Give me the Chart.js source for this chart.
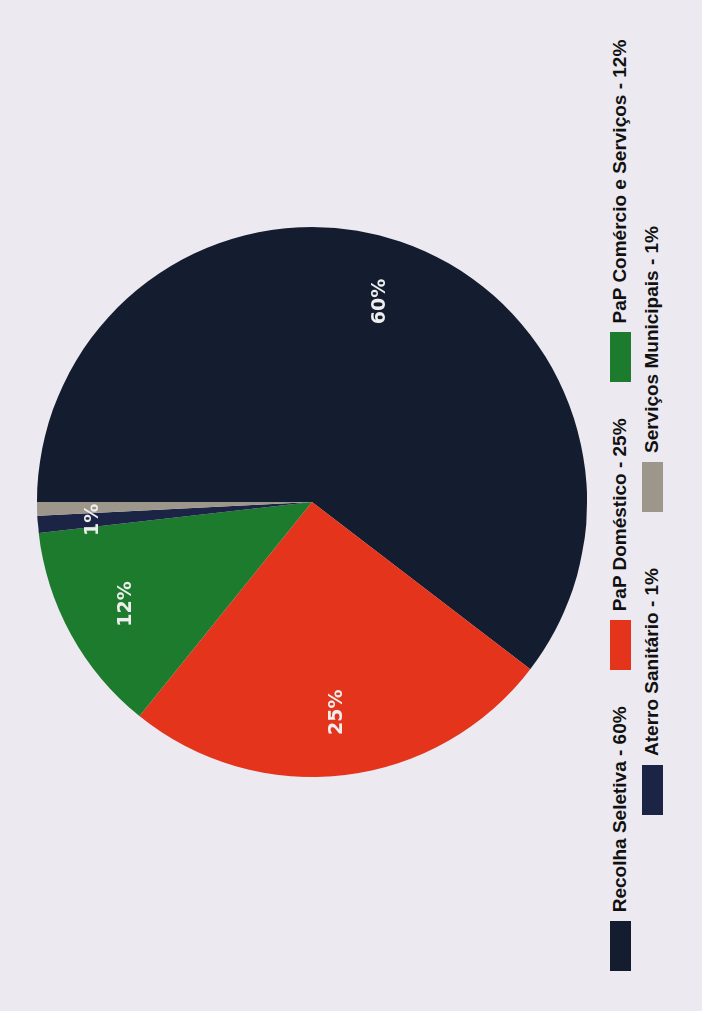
<!DOCTYPE html>
<html lang="pt">
<head>
<meta charset="utf-8">
<title>Recolha de resíduos</title>
<script src="https://cdn.jsdelivr.net/npm/chart.js@4.4.0/dist/chart.umd.min.js"></script>
<style>
    html, body { margin: 0; padding: 0; }
    body {
        width: 702px;
        height: 1011px;
        overflow: hidden;
        position: relative;
        background: #ece9f0;
        font-family: 'Liberation Sans', Arial, sans-serif;
    }
    /* o gráfico original está rodado 90 graus no papel digitalizado */
    #rotator {
        position: absolute;
        left: 0;
        top: 0;
        width: 1011px;
        height: 702px;
        transform-origin: 0 0;
        transform: translateY(1011px) rotate(-90deg);
    }
    #chartWrap { position: absolute; left: 0; top: 0; width: 1011px; height: 600px; }
    #legend { position: absolute; left: 0; top: 604px; width: 1011px; }
    .legend-row { display: flex; justify-content: center; gap: 36px; height: 32px; align-items: center; }
    .legend-row.second { gap: 56px; padding-right: 30px; }
    .legend-item { display: flex; align-items: center; font-weight: bold; font-size: 19px; color: #111; white-space: nowrap; }
    .legend-box { width: 50px; height: 21px; margin-right: 9px; }
</style>
</head>
<body>
<div id="rotator">
    <div id="chartWrap"><canvas id="pieChart" width="1011" height="600"></canvas></div>
    <div id="legend"></div>
</div>

<script>
// Dados do gráfico
const categories = ['Recolha Seletiva', 'PaP Doméstico', 'PaP Comércio e Serviços', 'Aterro Sanitário', 'Serviços Municipais'];
const shares = [60.4, 25.4, 12.4, 1.0, 0.8];
const legendPercent = ['60%', '25%', '12%', '1%', '1%'];
const sliceColors = ['#131d2f', '#e4341c', '#1c7b2c', '#1c2446', '#9d978b'];

document.addEventListener('DOMContentLoaded', function() {
    buildLegend();
    initializePieChart();
});

// Rótulos de percentagem dentro das fatias
const percentLabels = {
    id: 'percentLabels',
    afterDatasetsDraw(chart) {
        const ctx = chart.ctx;
        const meta = chart.getDatasetMeta(0);
        const drawn = [];
        ctx.save();
        ctx.font = 'bold 19px "DejaVu Sans"';
        ctx.fillStyle = '#eeeeee';
        ctx.textAlign = 'center';
        ctx.textBaseline = 'middle';
        meta.data.forEach((arc, i) => {
            const mid = (arc.startAngle + arc.endAngle) / 2;
            // fatias pequenas com o rótulo um pouco mais para fora
            const r = arc.outerRadius * (shares[i] < 5 ? 0.8 : 0.77);
            const x = arc.x + Math.cos(mid) * r;
            const y = arc.y + Math.sin(mid) * r;
            const text = Math.round(shares[i]) + '%';
            const w = ctx.measureText(text).width;
            // não desenhar se sobrepõe um rótulo já desenhado
            if (drawn.some(b => Math.abs(b.x - x) < (b.w + w) / 2 && Math.abs(b.y - y) < 22)) return;
            ctx.fillText(text, x, y);
            drawn.push({ x: x, y: y, w: w });
        });
        ctx.restore();
    }
};

function initializePieChart() {
    const ctx = document.getElementById('pieChart');
    if (!ctx) return;

    new Chart(ctx, {
        type: 'pie',
        data: {
            labels: categories,
            datasets: [{
                data: shares,
                backgroundColor: sliceColors,
                borderWidth: 0
            }]
        },
        options: {
            responsive: false,
            animation: false,
            layout: { padding: { top: 37, bottom: 13, left: 7 } },
            plugins: {
                legend: { display: false },
                tooltip: { enabled: false }
            }
        },
        plugins: [percentLabels]
    });
}

// Legenda em duas linhas, como no original
function buildLegend() {
    const legend = document.getElementById('legend');
    const rows = [[0, 1, 2], [3, 4]];
    rows.forEach((row, r) => {
        const rowEl = document.createElement('div');
        rowEl.className = r === 1 ? 'legend-row second' : 'legend-row';
        row.forEach(i => {
            const item = document.createElement('div');
            item.className = 'legend-item';
            const box = document.createElement('span');
            box.className = 'legend-box';
            box.style.background = sliceColors[i];
            const label = document.createElement('span');
            label.textContent = categories[i] + ' - ' + legendPercent[i];
            item.appendChild(box);
            item.appendChild(label);
            rowEl.appendChild(item);
        });
        legend.appendChild(rowEl);
    });
}
</script>
</body>
</html>
